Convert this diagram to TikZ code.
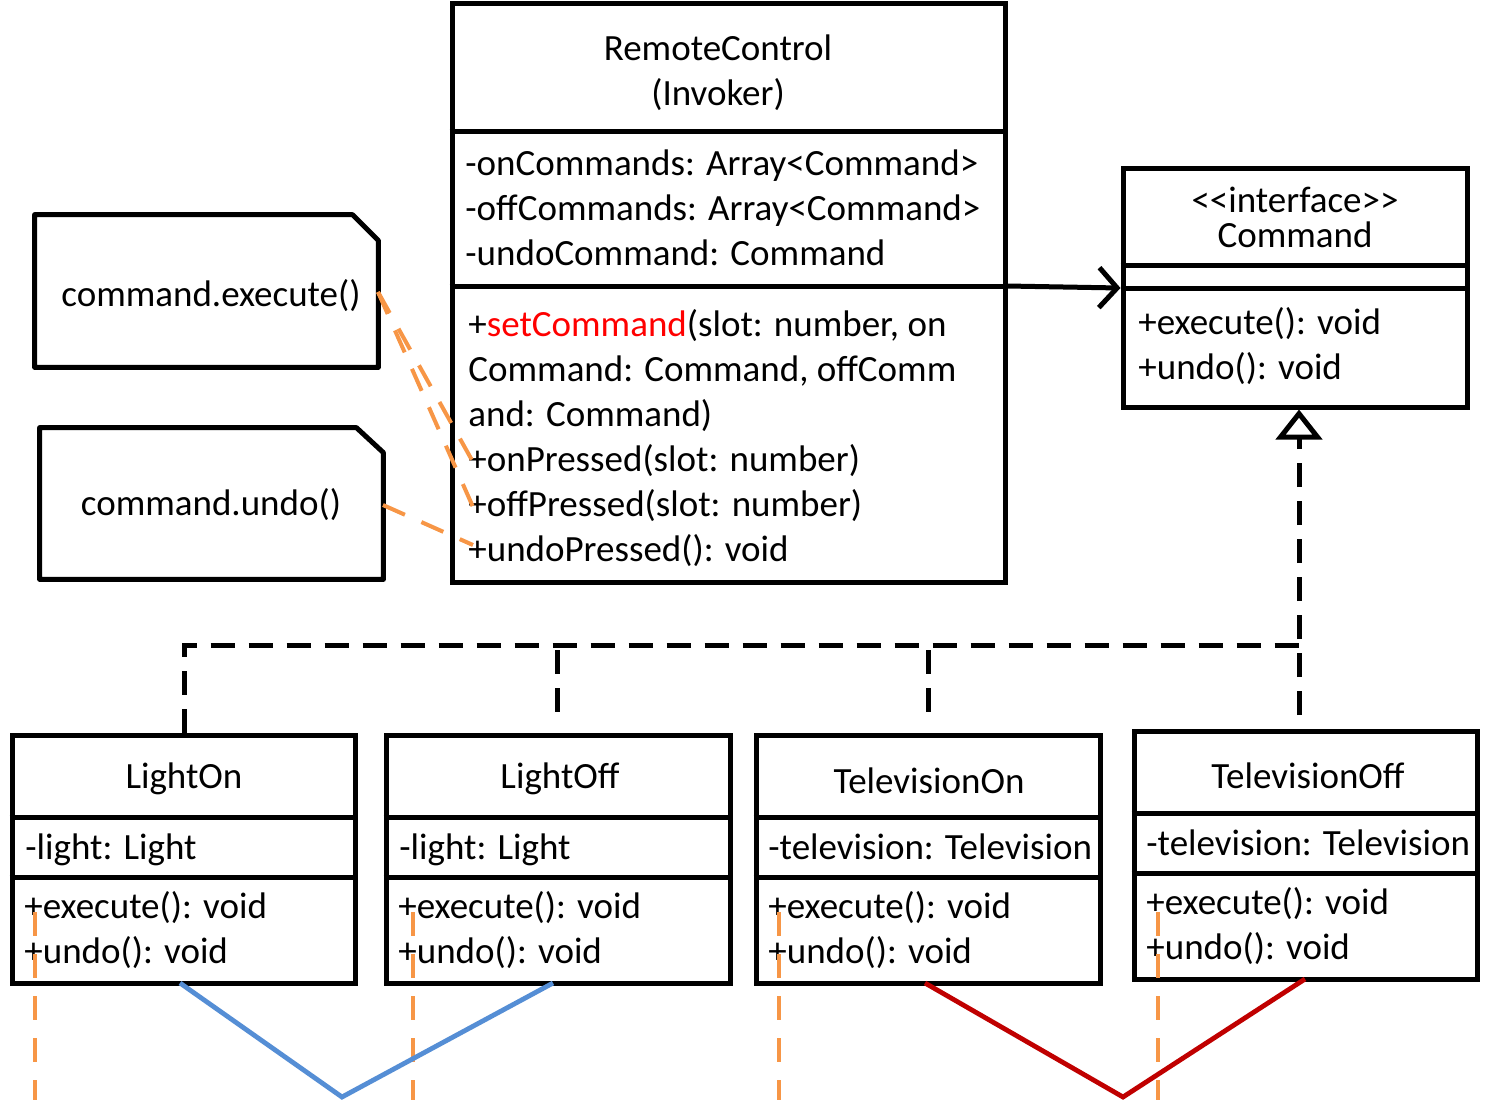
\documentclass[tikz,border=0pt]{standalone}
\usepackage{fontspec}
\setmainfont{Carlito}
\usetikzlibrary{arrows.meta,fit}
\definecolor{orng}{HTML}{F79646}
\definecolor{blu}{HTML}{558ED5}
\definecolor{rd}{HTML}{C00000}
\begin{document}
\begin{tikzpicture}[x=0.5pt,y=-0.5pt,
  box/.style={draw=black,line width=2.5pt,inner sep=0pt,fit={#1}},
  ghost/.style={inner sep=0pt,fit={#1}},
  ln/.style={line width=2.5pt,black},
  dsh/.style={line width=2.5pt,black,dash pattern=on 12pt off 7pt},
  odash/.style={line width=2pt,orng,dash pattern=on 12pt off 9pt},
  tl/.style={inner sep=0pt,anchor=base west,font=\fontsize{18.5pt}{22pt}\selectfont},
  tc/.style={inner sep=0pt,anchor=base,font=\fontsize{18.5pt}{22pt}\selectfont}]
\useasboundingbox (0,0) rectangle (1498,1100);
\fill[white] (0,0) rectangle (1498,1100);

% ---- boxes ----
\node[box={(452,3) (1005,582)}] (rc) {};
\draw[ln] (rc.west |- 0,131) -- (rc.east |- 0,131);
\draw[ln] (rc.west |- 0,286) -- (rc.east |- 0,286);

\node[box={(1123,168) (1467,407)}] (cmd) {};
\draw[ln] (cmd.west |- 0,265) -- (cmd.east |- 0,265);
\draw[ln] (cmd.west |- 0,288) -- (cmd.east |- 0,288);

\node[box={(12,735) (355,983)}] (lon) {};
\draw[ln] (lon.west |- 0,817) -- (lon.east |- 0,817);
\draw[ln] (lon.west |- 0,877) -- (lon.east |- 0,877);

\node[box={(386,735) (730,983)}] (loff) {};
\draw[ln] (loff.west |- 0,817) -- (loff.east |- 0,817);
\draw[ln] (loff.west |- 0,877) -- (loff.east |- 0,877);

\node[box={(756,735) (1100,983)}] (ton) {};
\draw[ln] (ton.west |- 0,817) -- (ton.east |- 0,817);
\draw[ln] (ton.west |- 0,877) -- (ton.east |- 0,877);

\node[box={(1134,731) (1477,979)}] (toff) {};
\draw[ln] (toff.west |- 0,813) -- (toff.east |- 0,813);
\draw[ln] (toff.west |- 0,873) -- (toff.east |- 0,873);

% ---- notes ----
\node[ghost={(35,215) (378,367)}] (ne) {};
\draw[ln,line join=round] (ne.south west) -- (ne.north west) -- ([xshift=-13pt]ne.north east)
  -- ([yshift=-13pt]ne.north east) -- (ne.south east) -- cycle;
\node[ghost={(40,428) (383,579)}] (nu) {};
\draw[ln,line join=round] (nu.south west) -- (nu.north west) -- ([xshift=-13.5pt]nu.north east)
  -- ([yshift=-12.5pt]nu.north east) -- (nu.south east) -- cycle;

% ---- texts ----
\node[tc] (rct1) at (718,60) {RemoteControl};
\node[tc] (rct2) at (718,105) {(Invoker)};
\node[tl] (rca1) at (465,175) {-onCommands: Array<Command>};
\node[tl] (rca2) at (465,220) {-offCommands: Array<Command>};
\node[tl] (rca3) at (465,265) {-undoCommand: Command};
\node[tl] (rcm1) at (468,336) {+\textcolor{red}{setCommand}(slot: number, on};
\node[tl] (rcm2) at (468,381) {Command: Command, offComm};
\node[tl] (rcm3) at (468,426) {and: Command)};
\node[tl] (rcm4) at (468,471) {+onPressed(slot: number)};
\node[tl] (rcm5) at (468,516) {+offPressed(slot: number)};
\node[tl] (rcm6) at (468,561) {+undoPressed(): void};

\node[tc] (cmt1) at (1295,212) {<{}<interface>{}>};
\node[tc] (cmt2) at (1295,247) {Command};
\node[tl] (cmm1) at (1138,334) {+execute(): void};
\node[tl] (cmm2) at (1138,379) {+undo(): void};

\node[tc] (net) at (211,306) {command.execute()};
\node[tc] (nut) at (211,515) {command.undo()};

\node[tc] (lont) at (184,788) {LightOn};
\node[tl] (lona) at (25,859) {-light: Light};
\node[tl] (lonm1) at (24,918) {+execute(): void};
\node[tl] (lonm2) at (24,963) {+undo(): void};

\node[tc] (lofft) at (560,788) {LightOff};
\node[tl] (loffa) at (399,859) {-light: Light};
\node[tl] (loffm1) at (398,918) {+execute(): void};
\node[tl] (loffm2) at (398,963) {+undo(): void};

\node[tc] (tont) at (929,793) {TelevisionOn};
\node[tl] (tona) at (768,859) {-television: Television};
\node[tl] (tonm1) at (768,918) {+execute(): void};
\node[tl] (tonm2) at (768,963) {+undo(): void};

\node[tc] (tofft) at (1308,788) {TelevisionOff};
\node[tl] (toffa) at (1146,855) {-television: Television};
\node[tl] (toffm1) at (1146,914) {+execute(): void};
\node[tl] (toffm2) at (1146,959) {+undo(): void};

% ---- association arrow ----
\draw[ln,-{Straight Barb[length=9pt,width=20pt,line width=2.5pt]}] (rc.east |- 0,286) -- (cmd.west |- 0,288);

% ---- realization ----
\coordinate (hub) at (1299,645);
\coordinate (hubL) at (184,645);
\coordinate (d2) at (557,650);
\coordinate (d2e) at (557,718);
\coordinate (d3) at (928,650);
\coordinate (d3e) at (928,715);
\coordinate (d4) at (1299,715);
\draw[dsh] (lon.north -| hubL) -- (hubL) -- (hub);
\draw[dsh] (d2) -- (d2e);
\draw[dsh] (d3) -- (d3e);
\draw[dsh,-{Triangle[open,length=15pt,width=23pt,line width=2.5pt,fill=white]}] (d4) -- (cmd.south -| d4);

% ---- orange note links ----
\coordinate (ex0) at (378,292);
\coordinate (ex1) at (473,462);
\coordinate (ex2) at (473,507);
\coordinate (un0) at (383,505);
\coordinate (un1) at (473,545);
\draw[odash] (ex0) -- (ex1);
\draw[odash] (ex0) -- (ex2);
\draw[odash] (un0) -- (un1);

% ---- orange lifelines ----
\foreach \xx/\nm in {35/o1,413/o2,779/o3,1158/o4}{
  \coordinate (\nm a) at (\xx,912);
  \coordinate (\nm b) at (\xx,1100);
  \draw[odash] (\nm a) -- (\nm b);
}

% ---- blue and red V ----
\coordinate (bv) at (342,1097);
\coordinate (bl) at (180,983);
\coordinate (br) at (553,983);
\draw[line width=2.4pt,blu] (bl) -- (bv) -- (br);
\coordinate (rv) at (1123,1097);
\coordinate (rl) at (925,983);
\coordinate (rr) at (1305,979);
\draw[line width=2.4pt,rd] (rl) -- (rv) -- (rr);
\end{tikzpicture}
\end{document}
